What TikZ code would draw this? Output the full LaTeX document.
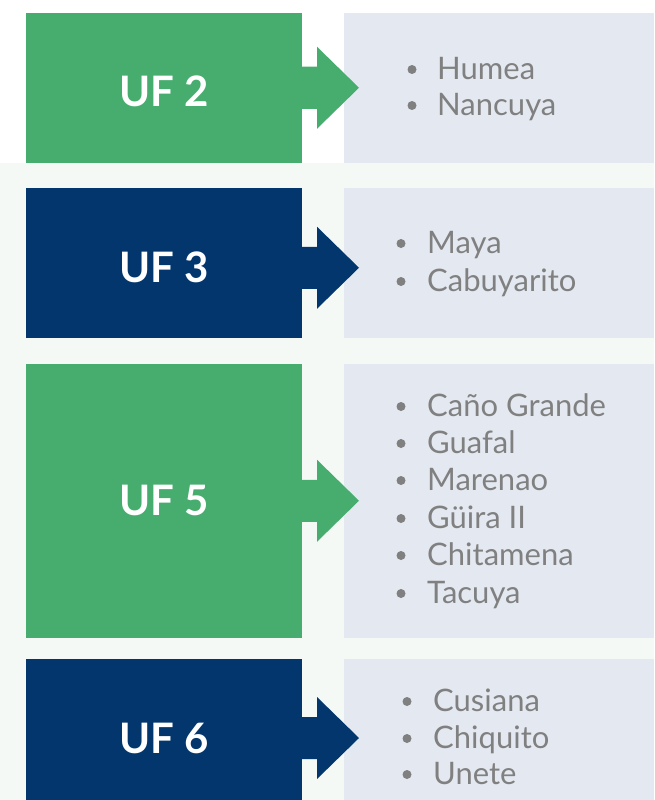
\documentclass[tikz,border=0pt]{standalone}
\usepackage{fontspec}
\setmainfont{Lato}
\definecolor{ufgreen}{HTML}{47AD6F}
\definecolor{ufnavy}{HTML}{02366C}
\definecolor{listbg}{HTML}{E4E9F1}
\definecolor{mint}{HTML}{F5F9F6}
\definecolor{itemgray}{HTML}{808080}
\begin{document}
\begin{tikzpicture}[x=1pt,y=-1pt,
  ufbox/.style={rectangle, inner sep=0pt, outer sep=0pt, anchor=north west, minimum width=276.5pt},
  listbox/.style={rectangle, inner sep=0pt, outer sep=0pt, anchor=north west, fill=listbg, minimum width=310pt},
  uflabel/.style={inner sep=0pt, text=white, font=\bfseries\fontsize{42}{42}\selectfont},
  item/.style={anchor=base west, inner sep=0pt, text=itemgray, font=\fontsize{31}{31}\selectfont},
  dot/.style={circle, fill=itemgray, inner sep=0pt, minimum size=9pt}
]
\useasboundingbox (0,0) rectangle (654,800);
\fill[white] (0,0) rectangle (654,800);
\fill[mint] (0,162.5) rectangle (654,800);

% left boxes
\node[ufbox, fill=ufgreen, minimum height=149.5pt] (uf2) at (25.5,13) {};
\node[ufbox, fill=ufnavy, minimum height=149.5pt] (uf3) at (25.5,188) {};
\node[ufbox, fill=ufgreen, minimum height=273.5pt] (uf5) at (25.5,364) {};
\node[ufbox, fill=ufnavy, minimum height=141pt] (uf6) at (25.5,659) {};

% right boxes
\node[listbox, minimum height=149.5pt] (r2) at (344,13) {};
\node[listbox, minimum height=149.5pt] (r3) at (344,188) {};
\node[listbox, minimum height=273.5pt] (r5) at (344,364) {};
\node[listbox, minimum height=141pt] (r6) at (344,659) {};

% arrows
\coordinate (a2) at ([yshift=0pt]uf2.east);
\coordinate (a3) at ([yshift=-5pt]uf3.east);
\coordinate (a5) at ([yshift=0pt]uf5.east);
\coordinate (a6) at (uf6.east |- 0,738);
\foreach \a/\c in {a2/ufgreen, a3/ufnavy, a5/ufgreen, a6/ufnavy}{
  \fill[\c, shift={(\a)}] (-1,21) -- (15,21) -- (15,41) -- (57,0) -- (15,-41) -- (15,-21) -- (-1,-21) -- cycle;
}

% labels
\node[uflabel] (l2) at (164,91) {UF 2};
\node[uflabel] (l3) at (164,267) {UF 3};
\node[uflabel] (l5) at (164,500) {UF 5};
\node[uflabel] (l6) at (164,738) {UF 6};

% UF 2 list
\node[dot] (b21) at (412,69.5) {};
\node[item] (t21) at (437,79) {Humea};
\node[dot] (b22) at (412,105.5) {};
\node[item] (t22) at (437,115) {Nancuya};

% UF 3 list
\node[dot] (b31) at (401,243.5) {};
\node[item] (t31) at (427,253) {Maya};
\node[dot] (b32) at (401,281.5) {};
\node[item] (t32) at (427,291) {Cabuyarito};

% UF 5 list
\node[dot] (b51) at (401,406.5) {};
\node[item] (t51) at (427,416) {Caño Grande};
\node[dot] (b52) at (401,443.5) {};
\node[item] (t52) at (427,453) {Guafal};
\node[dot] (b53) at (401,480.5) {};
\node[item] (t53) at (427,490) {Marenao};
\node[dot] (b54) at (401,518.5) {};
\node[item] (t54) at (427,528) {Güira II};
\node[dot] (b55) at (401,555.5) {};
\node[item] (t55) at (427,565) {Chitamena};
\node[dot] (b56) at (401,593.5) {};
\node[item] (t56) at (427,603) {Tacuya};

% UF 6 list
\node[dot] (b61) at (407,701.5) {};
\node[item] (t61) at (433,711) {Cusiana};
\node[dot] (b62) at (407,738.5) {};
\node[item] (t62) at (433,748) {Chiquito};
\node[dot] (b63) at (407,774.5) {};
\node[item] (t63) at (433,784) {Unete};
\end{tikzpicture}
\end{document}
